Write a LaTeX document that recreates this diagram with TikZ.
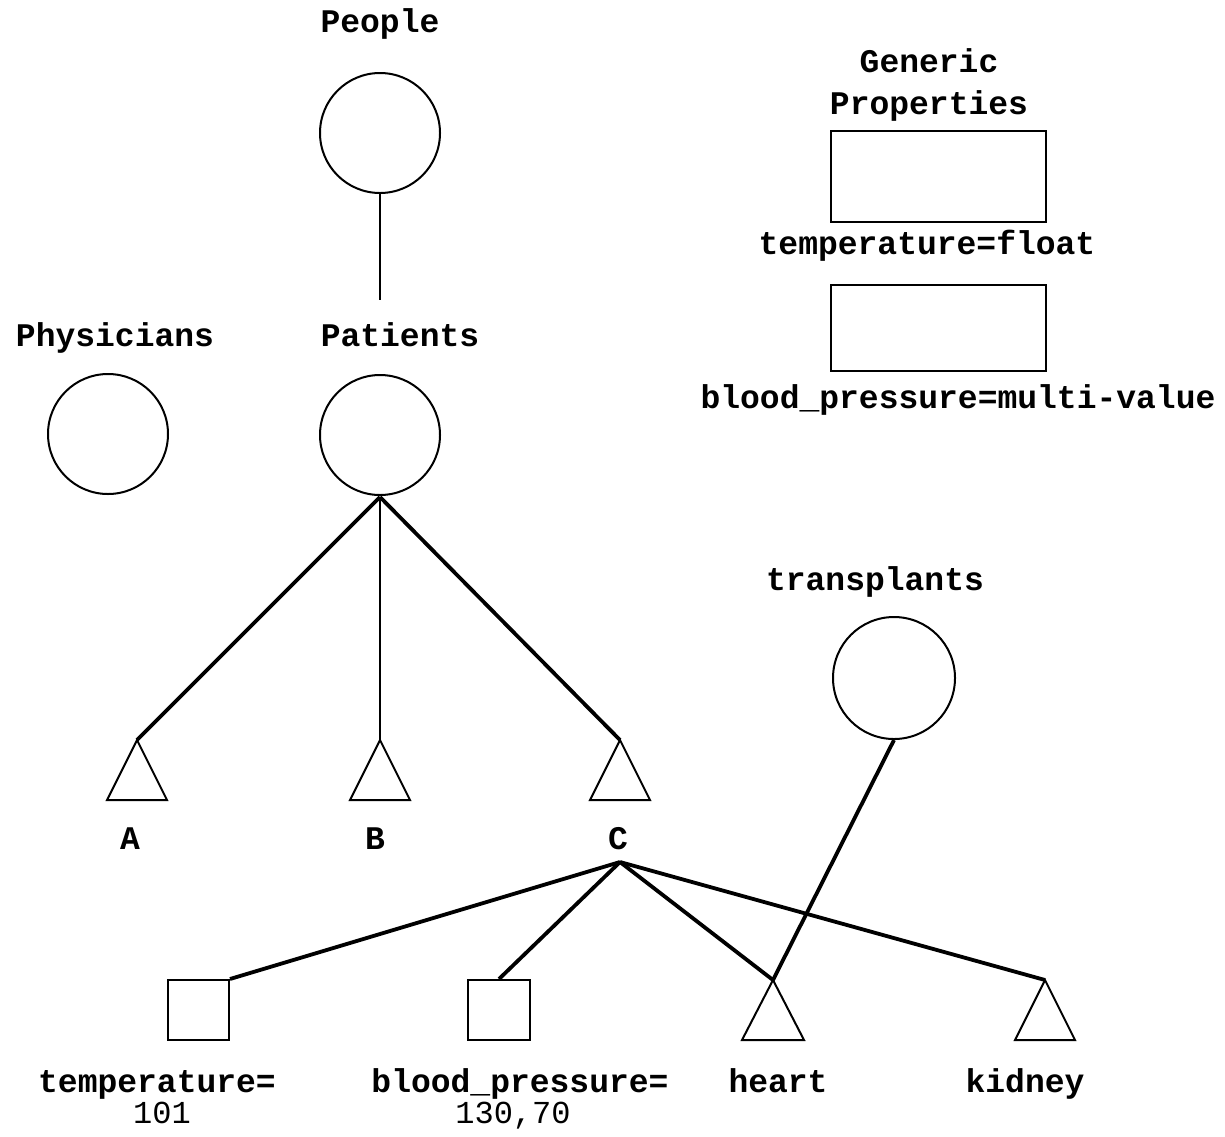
\documentclass[tikz,border=0pt]{standalone}
\usepackage{fontspec}
\setmonofont{Liberation Mono}
\begin{document}
\begin{tikzpicture}[x=1pt,y=-1pt,
  lbl/.style={font=\fontsize{33}{36}\selectfont\ttfamily\bfseries, inner sep=0pt, text height=0.62em, text depth=0.2em},
  val/.style={font=\fontsize{32}{36}\selectfont\ttfamily, inner sep=0pt, text height=0.62em, text depth=0.2em},
  cls/.style={circle, draw, line width=2pt, minimum size=120pt, inner sep=0pt},
  box/.style={draw, line width=2pt, inner sep=0pt},
  thin/.style={line width=2.2pt},
  thick/.style={line width=3.8pt},
  tri/.style={line width=2pt, line join=miter}]
\useasboundingbox (0,0) rectangle (1225,1136);
% circles
\node[cls] (people) at (380,133) {};
\node[cls] (physicians) at (108,434) {};
\node[cls] (patients) at (380,435) {};
\node[cls, minimum size=122pt] (transplants) at (894,678) {};
% labels
\node[lbl] (lpeople) at (380,30) {People};
\node[lbl] (lphys) at (115,344) {Physicians};
\node[lbl] (lpat) at (400,344) {Patients};
\node[lbl] (lgen) at (929,70) {Generic};
\node[lbl] (lprop) at (929,112) {Properties};
\node[lbl] (ltf) at (927,252) {temperature=float};
\node[lbl] (lbpm) at (958,406) {blood\_pressure=multi-value};
\node[lbl] (ltr) at (875,588) {transplants};
\node[lbl] (lA) at (130,847) {A};
\node[lbl] (lB) at (375,847) {B};
\node[lbl] (lC) at (618,847) {C};
\node[lbl] (ltemp) at (157,1090) {temperature=};
\node[val] (v101) at (162,1121) {101};
\node[lbl] (lbp) at (520,1090) {blood\_pressure=};
\node[val] (v130) at (513,1121) {130,70};
\node[lbl] (lheart) at (778,1090) {heart};
\node[lbl] (lkid) at (1025,1090) {kidney};
% generic property boxes
\node[box, minimum width=215pt, minimum height=91pt] (gp1) at (938.5,176.5) {};
\node[box, minimum width=215pt, minimum height=86pt] (gp2) at (938.5,328) {};
% value squares
\node[box, minimum width=61pt, minimum height=60pt] (sqt) at (198.5,1010) {};
\node[box, minimum width=62pt, minimum height=60pt] (sqb) at (499,1010) {};
% triangle apexes
\coordinate (tA) at (137,740);
\coordinate (tB) at (380,740);
\coordinate (tC) at (620,740);
\coordinate (tH) at (773,980);
\coordinate (tK) at (1045,980);
\coordinate (jC) at (620,862);
\coordinate (patbot) at (380,497);
\coordinate (pattop) at (380,300);
% triangles
\draw[tri] (tA) -- ++(-30,60) -- ++(60,0) -- cycle;
\draw[tri] (tB) -- ++(-30,60) -- ++(60,0) -- cycle;
\draw[tri] (tC) -- ++(-30,60) -- ++(60,0) -- cycle;
\draw[tri] (tH) -- ++(-31,60) -- ++(62,0) -- cycle;
\draw[tri] (tK) -- ++(-30,60) -- ++(60,0) -- cycle;
% connectors
\draw[thin] (people.south) -- (pattop);
\draw[thick] (patbot) -- (tA);
\draw[thin] (patbot) -- (tB);
\draw[thick] (patbot) -- (tC);
\draw[thick] (jC) -- (sqt.north east);
\draw[thick] (jC) -- (sqb.north);
\draw[thick] (jC) -- (tH);
\draw[thick] (jC) -- (tK);
\draw[thick] (transplants.south) -- (tH);
\end{tikzpicture}
\end{document}
